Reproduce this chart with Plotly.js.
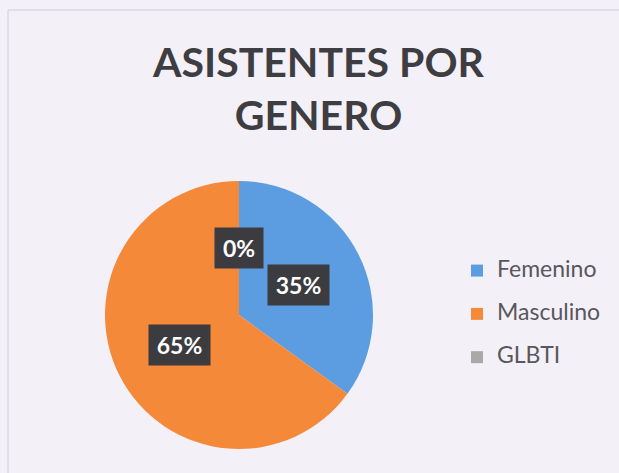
<!DOCTYPE html>
<html>
<head>
<meta charset="utf-8">
<script src="https://cdn.plot.ly/plotly-3.0.1.min.js"></script>
<style>
html,body{margin:0;padding:0;background:#f3f1f7;}
#chart{width:619px;height:473px;}
</style>
</head>
<body>
<div id="chart"></div>
<script>
// ---- data ----
const categories = ["Femenino", "Masculino", "GLBTI"];
const values = [35, 65, 0];
const sliceColors = ["#5b9de0", "#f5893a", "#a9a9a9"];
const chartTitle = "ASISTENTES POR<br>GENERO";

// ---- layout constants ----
const W = 619, H = 473;
const pieBox = {x0: 105, x1: 373, y0: 181, y1: 449}; // pixel box of the pie domain
const cx = (pieBox.x0 + pieBox.x1) / 2;
const cy = (pieBox.y0 + pieBox.y1) / 2;
const R = Math.min(pieBox.x1 - pieBox.x0, pieBox.y1 - pieBox.y0) / 2;

const total = values.reduce((a, b) => a + b, 0);

// percentage labels placed at half radius along each slice's mid angle
let cum = 0;
const annotations = values.map((v, i) => {
  const mid = (cum + v / 2) / total * 2 * Math.PI;
  cum += v;
  const px = cx + 0.5 * R * Math.sin(mid);
  const py = cy - 0.5 * R * Math.cos(mid);
  const txt = Math.round(v / total * 100) + "%";
  return {
    x: px / W, y: 1 - py / H, xref: "paper", yref: "paper",
    xanchor: "center", yanchor: "middle",
    text: "<b>" + txt + "</b>", showarrow: false,
    font: {family: "Lato", size: 23, color: "#ffffff"},
    bgcolor: "#3c3b3f", borderpad: 6,
    width: txt.length * 13 + 10
  };
});

const legendLabels = categories.map(c =>
  "<span style='font-size:23px'>" + c + "</span><br> ");

const trace = {
  type: "pie",
  labels: legendLabels,
  values: values,
  sort: false,
  direction: "clockwise",
  rotation: 0,
  textinfo: "none",
  hoverinfo: "label+percent",
  marker: {colors: sliceColors, line: {width: 0}},
  domain: {
    x: [pieBox.x0 / W, pieBox.x1 / W],
    y: [1 - pieBox.y1 / H, 1 - pieBox.y0 / H]
  }
};

const layout = {
  width: W, height: H,
  margin: {l: 0, r: 0, t: 0, b: 0},
  paper_bgcolor: "#f3f1f7",
  title: {
    text: chartTitle,
    font: {family: "Lato", size: 41, color: "#3e3d42", weight: "bold"},
    x: 0.5145, xanchor: "center", xref: "paper",
    y: 1 - 77 / H, yanchor: "top", yref: "container"
  },
  showlegend: true,
  legend: {
    x: 457 / W, xanchor: "left",
    y: 1 - 254 / H, yanchor: "top",
    font: {family: "Lato", size: 15.5, color: "#58575c"},
    valign: "top",
    bgcolor: "rgba(0,0,0,0)"
  },
  annotations: annotations,
  shapes: [{
    type: "rect", xref: "paper", yref: "paper",
    x0: 8 / W, x1: 1.05, y0: -0.05, y1: 1 - 10 / H,
    line: {color: "#cfcdd6", width: 1}
  }]
};

Plotly.newPlot("chart", [trace], layout, {displayModeBar: false, staticPlot: true});
</script>
</body>
</html>
